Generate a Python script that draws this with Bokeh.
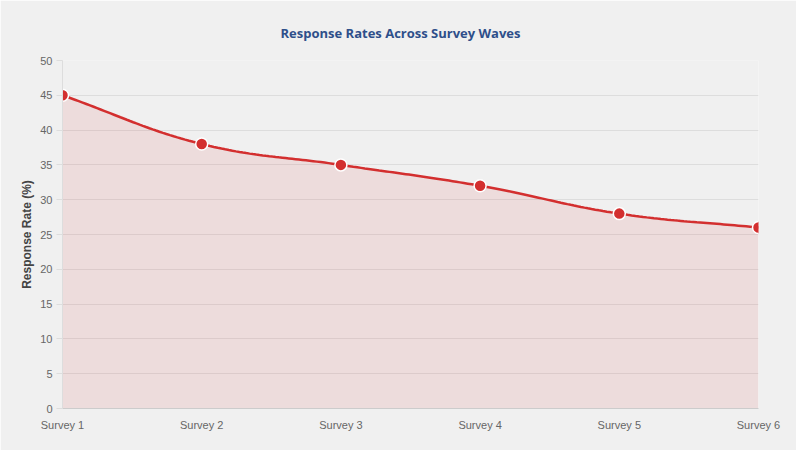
import numpy as np
from bokeh.plotting import figure
from bokeh.models import Range1d, FixedTicker, Title, ColumnDataSource
from bokeh.embed import file_html
from bokeh.resources import INLINE

title_text = "Response Rates Across Survey Waves"
categories = ["Survey 1", "Survey 2", "Survey 3", "Survey 4", "Survey 5", "Survey 6"]
response_rate = [45, 38, 35, 32, 28, 26]
y_ticks = list(range(0, 55, 5))

W, H = 796, 450
BL, BR, BT, BB = 62, W - 758, 60, H - 408
fw, fh = W - BL - BR, H - BT - BB

xs = np.arange(len(categories), dtype=float)
ys = np.array(response_rate, dtype=float)
sx = fw / (len(categories) - 1)
sy = fh / 50.0

# Chart.js-style spline (tension 0.4) computed in pixel space
px = xs * sx
py = ys * sy
n = len(px)
t = 0.4
cp_prev = []
cp_next = []
for i in range(n):
    pv = i - 1 if i > 0 else i
    nx = i + 1 if i < n - 1 else i
    d01 = np.hypot(px[i] - px[pv], py[i] - py[pv])
    d12 = np.hypot(px[nx] - px[i], py[nx] - py[i])
    tot = d01 + d12
    s01 = d01 / tot if tot else 0
    s12 = d12 / tot if tot else 0
    fa, fb = t * s01, t * s12
    cp_prev.append((px[i] - fa * (px[nx] - px[pv]), py[i] - fa * (py[nx] - py[pv])))
    cp_next.append((px[i] + fb * (px[nx] - px[pv]), py[i] + fb * (py[nx] - py[pv])))

cx, cy = [], []
tt = np.linspace(0, 1, 40)
for i in range(n - 1):
    p0 = np.array([px[i], py[i]])
    p1 = np.array(cp_next[i])
    p2 = np.array(cp_prev[i + 1])
    p3 = np.array([px[i + 1], py[i + 1]])
    for u in tt if i == 0 else tt[1:]:
        b = (1 - u) ** 3 * p0 + 3 * (1 - u) ** 2 * u * p1 + 3 * (1 - u) * u ** 2 * p2 + u ** 3 * p3
        cx.append(b[0] / sx)
        cy.append(b[1] / sy)

p = figure(width=W, height=H, output_backend="svg", toolbar_location=None,
           x_range=Range1d(0, len(categories) - 1), y_range=Range1d(0, 50),
           min_border_left=BL, min_border_right=BR, min_border_top=BT, min_border_bottom=BB)
p.title = Title(text=title_text, align="left",
                text_font="Open Sans", text_font_size="13px", text_font_style="bold",
                text_color="#2e4f8a", offset=218, standoff=37)
p.background_fill_color = "#f0f0f0"
p.border_fill_color = "#f0f0f0"
p.outline_line_color = None

p.varea(x=cx, y1=[0] * len(cx), y2=cy, fill_color="#d32f2f", fill_alpha=0.1)
p.line(x=cx, y=cy, line_color="#d32f2f", line_width=2.5)
src = ColumnDataSource(dict(x=xs, y=ys))
p.scatter(x="x", y="y", source=src, size=12, fill_color="#d32f2f", line_color="white", line_width=1.5)

p.xaxis.ticker = FixedTicker(ticks=list(xs))
p.xaxis.major_label_overrides = {i: c for i, c in enumerate(categories)}
p.xaxis.major_tick_line_color = None
p.xaxis.minor_tick_line_color = None
p.xaxis.axis_line_color = "#cccccc"
p.xaxis.major_label_text_font = "Liberation Sans"
p.xaxis.major_label_text_font_size = "11px"
p.xaxis.major_label_text_color = "#666666"
p.xaxis.major_label_standoff = 4

p.yaxis.ticker = FixedTicker(ticks=y_ticks)
p.yaxis.axis_line_color = "#dddddd"
p.yaxis.major_tick_line_color = "#dddddd"
p.yaxis.major_tick_out = 6
p.yaxis.major_tick_in = 0
p.yaxis.minor_tick_line_color = None
p.yaxis.major_label_text_font = "Liberation Sans"
p.yaxis.major_label_text_font_size = "11px"
p.yaxis.major_label_text_color = "#666666"
p.yaxis.major_label_standoff = 4
p.yaxis.axis_label = "Response Rate (%)"
p.yaxis.axis_label_text_font = "Liberation Sans"
p.yaxis.axis_label_text_font_size = "12px"
p.yaxis.axis_label_text_font_style = "bold"
p.yaxis.axis_label_text_color = "#444444"
p.yaxis.axis_label_standoff = 3

p.xgrid.grid_line_color = None
p.ygrid.grid_line_color = "#dddddd"
p.ygrid.grid_line_width = 1

open("out.html", "w").write(file_html(p, INLINE))
